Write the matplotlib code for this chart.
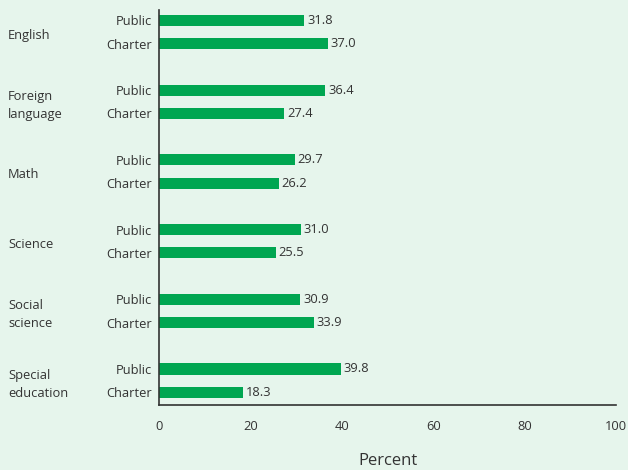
import numpy as np
import matplotlib.pyplot as plt

subjects = ['English', 'Foreign\nlanguage', 'Math', 'Science', 'Social\nscience', 'Special\neducation']
public_vals = [31.8, 36.4, 29.7, 31.0, 30.9, 39.8]
charter_vals = [37.0, 27.4, 26.2, 25.5, 33.9, 18.3]
x_ticks = [0, 20, 40, 60, 80, 100]

bg = '#e6f5ec'
bar_color = '#00a651'
text_color = '#333333'

plt.rcParams['font.family'] = ['Open Sans', 'DejaVu Sans']

fig = plt.figure(figsize=(6.28, 4.7), dpi=100, facecolor=bg)
ax = fig.add_axes([159 / 628, 65 / 470, 457 / 628, 395 / 470])
ax.set_facecolor(bg)

# each subject: Public row then Charter row, with a gap row between subjects
g = np.arange(len(subjects)) * 3
y_pub = g
y_cha = g + 1

ax.barh(y_pub, public_vals, height=0.48, color=bar_color)
ax.barh(y_cha, charter_vals, height=0.48, color=bar_color)

for y, v in zip(y_pub, public_vals):
    ax.text(v + 0.6, y, f'{v:.1f}', va='center', ha='left', fontsize=9.3, color=text_color)
for y, v in zip(y_cha, charter_vals):
    ax.text(v + 0.6, y, f'{v:.1f}', va='center', ha='left', fontsize=9.3, color=text_color)

ax.set_xlim(0, 100)
ax.set_ylim(16.55, -0.45)

yt = np.concatenate([y_pub, y_cha])
yl = ['Public'] * len(y_pub) + ['Charter'] * len(y_cha)
ax.set_yticks(yt)
ax.set_yticklabels(yl, fontsize=9.3, color=text_color)
ax.set_xticks(x_ticks)
ax.set_xticklabels([str(t) for t in x_ticks], fontsize=9.3, color=text_color)
ax.tick_params(axis='both', length=0)
ax.tick_params(axis='x', pad=11)
ax.tick_params(axis='y', pad=5)

for side in ['top', 'right']:
    ax.spines[side].set_visible(False)
for side in ['left', 'bottom']:
    ax.spines[side].set_color('#333333')
    ax.spines[side].set_linewidth(1.2)

# subject labels at the far left of the figure
for gy, name in zip(g, subjects):
    ax.annotate(name, xy=(8 / 628, gy + 0.65), xycoords=('figure fraction', 'data'),
                ha='left', va='center', fontsize=9.3, color=text_color, linespacing=1.5)

ax.set_xlabel('Percent', fontsize=12, color=text_color, labelpad=14)

fig.savefig('out.png', dpi=100, facecolor=bg)
